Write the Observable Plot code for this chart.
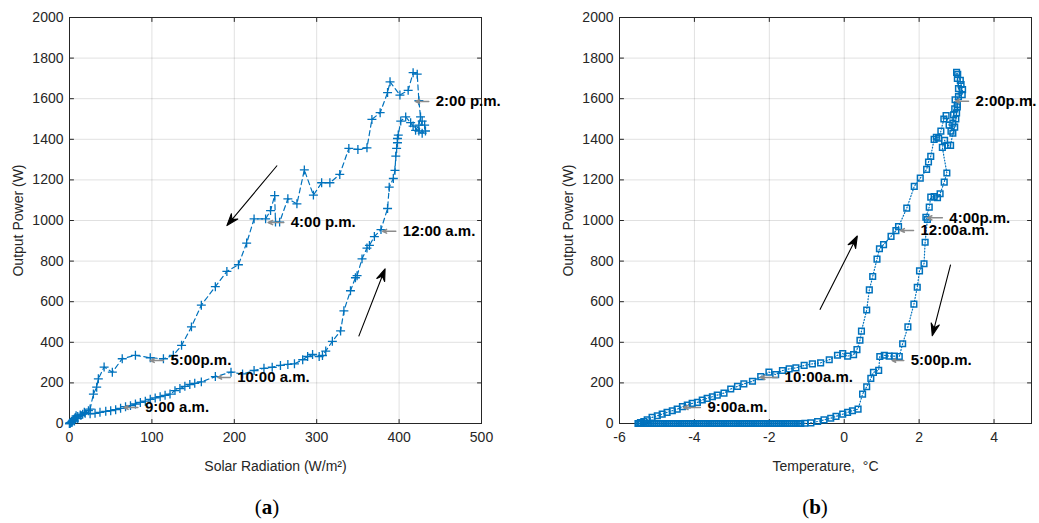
<!DOCTYPE html>
<html><head><meta charset="utf-8">
<script src="https://cdn.jsdelivr.net/npm/d3@7"></script>
<script src="https://cdn.jsdelivr.net/npm/@observablehq/plot@0.6"></script>
<style>
html,body{margin:0;padding:0;background:#fff;}
#wrap{position:relative;width:1039px;height:523px;overflow:hidden;}
.panel{position:absolute;top:0;}
.cap{position:absolute;top:495px;width:60px;text-align:center;font-family:"Liberation Serif","DejaVu Serif",serif;font-size:21px;color:#000;}
</style></head><body>
<div id="wrap">
  <div id="pa" class="panel" style="left:0px"></div>
  <div id="pb" class="panel" style="left:519px"></div>
  <div class="cap" style="left:237px">(<b>a</b>)</div>
  <div class="cap" style="left:785px">(<b>b</b>)</div>
</div>
<script>
// ---------- Panel (a): output power vs solar radiation ----------
const radiation = [0,1,2,3,4,5,6,7,8,10,13,16,19,25,31,37,44,50,56,62,68,74,80,86,92,98,104,110,116,122,128,134,140,146,152,160,177,196,210,224,236,246,256,265,273,283,289,295,303,307,311,319,329,333,341,347,349,355,361,364,370,378,386,388,393,395,396,397,398,398,399,402,408,414,417,424,428,431,432,428,420,424,426,424,422,417,411,401,389,386,377,367,361,350,339,328,316,306,296,285,276,265,255,250,249,244,238,224,215,205,191,177,160,148,136,126,114,98,80,64,52,42,35,33,29,25,23,18,14,10,6,3,1,0];
const radPower = [0,3,6,10,14,18,24,30,38,35,42,46,50,48,50,55,60,63,68,75,83,88,96,104,110,119,126,132,139,145,162,172,183,192,198,205,231,253,244,261,272,277,286,291,294,314,330,340,330,335,357,405,456,555,654,718,728,811,864,877,921,955,1059,1164,1207,1247,1317,1355,1383,1404,1421,1490,1510,1482,1465,1441,1490,1470,1441,1430,1444,1470,1510,1590,1721,1728,1641,1618,1683,1630,1531,1498,1358,1350,1355,1227,1186,1186,1125,1249,1082,1107,992,992,1123,1049,1008,1008,889,782,749,674,583,476,385,336,319,324,336,319,253,278,220,179,145,71,63,55,40,25,12,5,2,0];
const radTicks = [0,100,200,300,400,500];
const radLabels = ["2:00 p.m.","12:00 a.m.","4:00 p.m.","5:00p.m.","10:00 a.m.","9:00 a.m."];
const radLabelTipX = [420,380,241,98,180,66];
const radLabelTailX = [436,396,260,114,195,83];
const radLabelY = [1586,947,990,310,227,79];
const radArrowFromX = [252,351], radArrowFromY = [1271,429];
const radArrowToX = [191,383], radArrowToY = [975,762];

// ---------- Panel (b): output power vs temperature ----------
const dayTemperature = [-5.5,-5.44,-5.35,-5.26,-5.13,-4.99,-4.86,-4.73,-4.59,-4.46,
  -4.32,-4.19,-4.06,-3.92,-3.79,-3.66,-3.52,-3.39,-3.21,-3.03,
  -2.85,-2.68,-2.45,-2.23,-2.01,-1.83,-1.65,-1.47,-1.29,-1.07,
  -0.85,-0.63,-0.40,-0.18,-0.04,0.09,0.25,0.34,0.42,0.46,
  0.60,0.67,0.76,0.875,0.94,1.05,1.25,1.38,1.45,1.67,
  1.87,2.03,2.20,2.25,2.31,2.40,2.46,2.52,2.58,2.66,
  2.72,2.80,2.85,2.90,2.92,2.95,3.00,3.02,2.96,3.05,
  3.15,3.16,3.12,3.10,3.03,3.00,3.02,3.05,3.02,2.98,
  2.95,2.90,2.84,2.76,2.68,2.62,2.74,2.67,2.56,2.49,
  2.40,2.31,2.27,2.18,2.22,2.16,2.13,2.01,1.95,1.86,
  1.70,1.56,1.47,1.34,1.20,1.07,0.95,0.92,0.78,0.71,
  0.60,0.49,0.37,0.22,0.09,-0.04,-0.22,-0.36,-0.54,-0.71,
  -0.89,-1.05,-1.16];
const dayPower = [0,4,10,18,30,38,46,55,63,71,
  83,91,99,104,116,124,132,140,150,170,
  183,195,208,231,253,241,261,269,274,286,
  294,299,314,336,344,332,339,364,410,455,
  559,658,724,810,861,881,922,950,970,1061,
  1168,1209,1252,1288,1316,1400,1410,1405,1440,1500,
  1517,1470,1440,1480,1520,1550,1530,1570,1595,1610,
  1620,1645,1670,1690,1720,1730,1700,1650,1560,1500,
  1460,1430,1370,1370,1395,1360,1234,1189,1132,1112,
  1118,1115,1066,1016,1005,893,787,752,671,588,
  476,393,330,332,332,336,330,262,252,222,
  181,145,71,63,55,46,35,26,18,10,
  3,1,0];
const nightTemperature = [-1.21,-1.26,-1.31,-1.36,-1.41,-1.46,-1.51,-1.56,-1.61,-1.66,
  -1.71,-1.76,-1.81,-1.86,-1.91,-1.96,-2.01,-2.06,-2.11,-2.16,
  -2.21,-2.26,-2.31,-2.36,-2.41,-2.46,-2.51,-2.56,-2.61,-2.66,
  -2.71,-2.76,-2.81,-2.86,-2.91,-2.96,-3.01,-3.06,-3.11,-3.16,
  -3.21,-3.26,-3.31,-3.36,-3.41,-3.46,-3.51,-3.56,-3.61,-3.66,
  -3.71,-3.76,-3.81,-3.86,-3.91,-3.96,-4.01,-4.06,-4.11,-4.16,
  -4.21,-4.26,-4.31,-4.36,-4.41,-4.46,-4.51,-4.56,-4.61,-4.66,
  -4.71,-4.76,-4.81,-4.86,-4.91,-4.96,-5.01,-5.06,-5.11,-5.16,
  -5.21,-5.26,-5.31,-5.36,-5.41,-5.46,-5.50];
const nightPower = [0,0,0,0,0,0,0,0,0,0,
  0,0,0,0,0,0,0,0,0,0,
  0,0,0,0,0,0,0,0,0,0,
  0,0,0,0,0,0,0,0,0,0,
  0,0,0,0,0,0,0,0,0,0,
  0,0,0,0,0,0,0,0,0,0,
  0,0,0,0,0,0,0,0,0,0,
  0,0,0,0,0,0,0,0,0,0,
  0,0,0,0,0,0,0];
const tempTicks = [-6,-4,-2,0,2,4];
const tempLabels = ["2:00p.m.","4:00p.m.","12:00a.m.","5:00p.m.","10:00a.m.","9:00a.m."];
const tempLabelTipX = [2.97,2.22,1.50,1.28,-2.24,-4.29];
const tempLabelTailX = [3.32,2.62,1.85,1.59,-1.78,-3.84];
const tempLabelY = [1588,1013,951,310,227,79];
const tempArrowFromX = [-0.65,2.84], tempArrowFromY = [560,783];
const tempArrowToX = [0.35,2.35], tempArrowToY = [924,433];

const powerTicks = [0,200,400,600,800,1000,1200,1400,1600,1800,2000];

const BLUE = "#0072BD";
const AXIS = "#262626";

function panel(o) {
  const height = 480, marginTop = 17, marginBottom = 57;
  const {width, marginLeft, marginRight} = o;
  const xs = Plot.scale({x: {domain: o.xDomain, range: [marginLeft, width - marginRight]}});
  const ys = Plot.scale({y: {domain: [0, 2000], range: [height - marginBottom, marginTop]}});
  const pts = o.xs.map((x, i) => ({x, y: o.ys[i]}));
  const labels = o.labels.map((t, i) => ({t, tip: o.tipX[i], tail: o.tailX[i], y: o.labelY[i]}));
  const tickShape = {draw(ctx, l) { ctx.moveTo(0, 0); ctx.lineTo(0, -l); }};
  const arrowShape = {draw(ctx, l) {
    const h = 12, w = 4.2;
    ctx.moveTo(0, 0); ctx.lineTo(0, -l + h * 0.6);
    ctx.moveTo(0, -l); ctx.lineTo(-w, -l + h); ctx.lineTo(0, -l + h * 0.65); ctx.lineTo(w, -l + h); ctx.closePath();
  }};
  const arrowMarks = o.ax1.map((x1, i) => {
    const a = {x1, y1: o.ay1[i], x2: o.ax2[i], y2: o.ay2[i]};
    const dx = xs.apply(a.x2) - xs.apply(a.x1), dy = ys.apply(a.y2) - ys.apply(a.y1);
    return Plot.vector([a], {x: "x1", y: "y1", length: Math.hypot(dx, dy), rotate: Math.atan2(dx, -dy) * 180 / Math.PI,
      anchor: "start", shape: arrowShape, stroke: "#000", fill: "#000", strokeWidth: 1.1, strokeLinecap: "butt"});
  });
  const x0 = o.xDomain[0], x1 = o.xDomain[1];
  return Plot.plot({
    width, height, marginTop, marginBottom, marginLeft, marginRight,
    style: {fontFamily: "'Liberation Sans', Arial, sans-serif", fontSize: "14px", color: AXIS, background: "transparent", overflow: "visible"},
    x: {domain: o.xDomain},
    y: {domain: [0, 2000]},
    marks: [
      Plot.gridX(o.xTicks, {stroke: "#000", strokeOpacity: 0.12, strokeWidth: 1}),
      Plot.gridY(powerTicks, {stroke: "#000", strokeOpacity: 0.12, strokeWidth: 1}),
      Plot.axisX(o.xTicks, {tickSize: 0, tickPadding: 9, label: null, tickFormat: d => String(d), fill: AXIS}),
      Plot.axisY(powerTicks, {tickSize: 0, tickPadding: 6, label: null, tickFormat: d => String(d), fill: AXIS}),
      Plot.text([o.xLabel], {text: d => d, frameAnchor: "bottom", lineAnchor: "bottom", dy: 47, fill: AXIS, fontSize: 14}),
      Plot.text(["Output Power (W)"], {text: d => d, frameAnchor: "left", rotate: -90, lineAnchor: "middle", textAnchor: "middle", dx: -51, fill: AXIS, fontSize: 14}),
      Plot.vector(o.xTicks, {x: d => d, y: () => 0, length: 4, anchor: "start", rotate: 0, shape: tickShape, stroke: AXIS, strokeWidth: 1}),
      Plot.vector(o.xTicks, {x: d => d, y: () => 2000, length: 4, anchor: "start", rotate: 180, shape: tickShape, stroke: AXIS, strokeWidth: 1}),
      Plot.vector(powerTicks, {x: () => x0, y: d => d, length: 4, anchor: "start", rotate: 90, shape: tickShape, stroke: AXIS, strokeWidth: 1}),
      Plot.vector(powerTicks, {x: () => x1, y: d => d, length: 4, anchor: "start", rotate: 270, shape: tickShape, stroke: AXIS, strokeWidth: 1}),
      Plot.frame({stroke: AXIS, strokeWidth: 1}),
      Plot.line(pts, {x: "x", y: "y", stroke: BLUE, strokeWidth: 1.2, strokeDasharray: o.dash}),
      Plot.dot(pts, {x: "x", y: "y", symbol: o.symbol, r: o.r, stroke: BLUE, strokeWidth: o.sw, fill: "none"}),
      Plot.arrow(labels, {x1: "tail", x2: "tip", y1: "y", y2: "y", stroke: "#8c8c8c", strokeWidth: 1.5, headLength: 5, headAngle: 50}),
      Plot.text(labels, {x: "tail", y: "y", text: "t", dx: 7, textAnchor: "start", fontWeight: "bold", fontSize: 15, fill: "#000"}),
      ...arrowMarks
    ]
  });
}

document.getElementById("pa").appendChild(panel({
  width: 520, marginLeft: 69, marginRight: 39,
  xDomain: [0, 500], xTicks: radTicks, xLabel: "Solar Radiation (W/m²)",
  xs: radiation, ys: radPower, symbol: "plus", r: 3, sw: 1.3, dash: "5,3.5",
  labels: radLabels, tipX: radLabelTipX, tailX: radLabelTailX, labelY: radLabelY,
  ax1: radArrowFromX, ay1: radArrowFromY, ax2: radArrowToX, ay2: radArrowToY
}));
document.getElementById("pb").appendChild(panel({
  width: 520, marginLeft: 100, marginRight: 8,
  xDomain: [-6, 5], xTicks: tempTicks, xLabel: "Temperature,  °C",
  xs: dayTemperature.concat(nightTemperature), ys: dayPower.concat(nightPower),
  symbol: "square2", r: 3.6, sw: 1.5, dash: "1,2",
  labels: tempLabels, tipX: tempLabelTipX, tailX: tempLabelTailX, labelY: tempLabelY,
  ax1: tempArrowFromX, ay1: tempArrowFromY, ax2: tempArrowToX, ay2: tempArrowToY
}));
</script>
</body></html>
